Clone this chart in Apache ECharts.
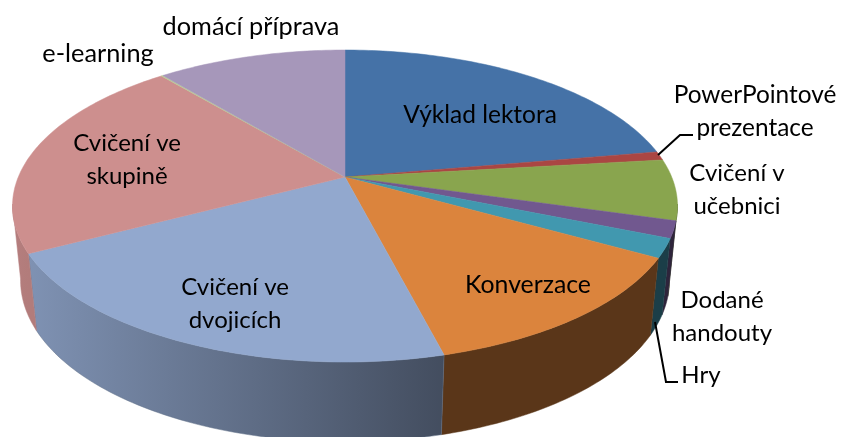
<!DOCTYPE html>
<html>
<head>
<meta charset="utf-8">
<title>Pie 3D</title>
<script src="https://cdn.jsdelivr.net/npm/echarts@6/dist/echarts.min.js"></script>
<style>
  html, body { margin: 0; padding: 0; background: #fff; }
  #chart { width: 843px; height: 437px; }
</style>
</head>
<body>
<div id="chart"></div>
<script>
// data, percent of the whole pie
const sliceNames = ['Výklad lektora', 'PowerPointové prezentace', 'Cvičení v učebnici', 'Dodané handouty', 'Hry',
  'Konverzace', 'Cvičení ve dvojicích', 'Cvičení ve skupině', 'e-learning', 'domácí příprava'];
const sliceValues = [22.25, 0.9, 6.3, 1.75, 1.95, 12.85, 21.3, 21.6, 0.1, 11];
const sliceColors = ['#4572a7', '#aa4643', '#89a54e', '#71588f', '#4198af', '#db843d', '#92a8ce', '#cd8f8e', '#b9cd96', '#a697ba'];

// perspective of the disc
const CX = 345, CY = 177, RX = 326.7, RY = 150.6, PERSP = 0.1859;
const VANISH_Y = 3300;
const total = sliceValues.reduce((a, b) => a + b, 0);

// angle in degrees, clockwise from 12 o'clock
const topPoint = (deg) => {
  const a = deg * Math.PI / 180;
  const u = Math.sin(a), v = -Math.cos(a);
  const d = 1 - PERSP * v;
  return [CX + RX * u / d, CY + RY * v / d];
};
const bottomPoint = (deg) => {
  const p = topPoint(deg);
  const t = 0.0235 - 0.0037 * Math.cos(deg * Math.PI / 180);
  return [p[0] + t * (CX - p[0]), p[1] + t * (VANISH_Y - p[1])];
};
const sliceRange = (idx) => {
  let sum = 0;
  for (let i = 0; i < idx; i++) sum += sliceValues[i];
  return [sum / total * 360, (sum + sliceValues[idx]) / total * 360];
};
const arc = (fn, from, to) => {
  const pts = [];
  const n = Math.max(1, Math.ceil(Math.abs(to - from)));
  for (let i = 0; i <= n; i++) pts.push(fn(from + (to - from) * i / n));
  return pts;
};

// wall gets darker from left to right, right of the front it stays flat
const wallShade = (x, flat) => {
  if (flat) return 0.41;
  return 0.87 - (x - 27) / (444 - 27) * 0.41;
};
const darken = (hex, f) => {
  const n = parseInt(hex.slice(1), 16);
  const c = [n >> 16, (n >> 8) & 255, n & 255].map((k) => Math.round(k * f));
  return 'rgb(' + c.join(',') + ')';
};

const renderWall = (params) => {
  const i = params.dataIndex;
  const r = sliceRange(i);
  const from = Math.max(r[0], 100), to = Math.min(r[1], 260);
  if (to <= from) return { type: 'group', children: [] };
  const rim = arc(topPoint, from, to);
  const low = arc(bottomPoint, from, to).reverse();
  const x0 = rim[rim.length - 1][0], x1 = rim[0][0];
  const flat = r[1] < 170;
  const fill = new echarts.graphic.LinearGradient(x0, 0, x1 + 0.01, 0, [
    { offset: 0, color: darken(sliceColors[i], wallShade(x0, flat)) },
    { offset: 1, color: darken(sliceColors[i], wallShade(x1, flat)) }
  ], true);
  return {
    type: 'polygon',
    shape: { points: rim.concat(low) },
    style: { fill: fill, stroke: darken(sliceColors[i], wallShade((x0 + x1) / 2, flat)), lineWidth: 0.5 }
  };
};

const renderTop = (params) => {
  const i = params.dataIndex;
  const r = sliceRange(i);
  return {
    type: 'polygon',
    shape: { points: [[CX, CY]].concat(arc(topPoint, r[0], r[1])) },
    style: { fill: sliceColors[i], stroke: sliceColors[i], lineWidth: 0.5 }
  };
};

const seriesData = sliceValues.map((v, i) => ({ name: sliceNames[i], value: [v] }));

const label = (text, x, y, size) => ({
  type: 'text',
  z: 100,
  x: x,
  y: y,
  style: {
    text: text,
    fontFamily: 'Lato',
    fontSize: size || 24,
    lineHeight: 33,
    fill: '#000',
    align: 'center',
    verticalAlign: 'middle'
  }
});
const leader = (points) => ({
  type: 'polyline',
  z: 100,
  shape: { points: points },
  style: { stroke: '#000', lineWidth: 2, fill: null }
});

const chart = echarts.init(document.getElementById('chart'));
chart.setOption({
  animation: false,
  series: [
    { type: 'custom', coordinateSystem: 'none', z: 1, data: seriesData, renderItem: renderWall, silent: true },
    { type: 'custom', coordinateSystem: 'none', z: 2, data: seriesData, renderItem: renderTop }
  ],
  graphic: [
    label('domácí příprava', 251, 27, 25.3),
    label('e-learning', 98, 54, 25.3),
    label('Výklad lektora', 480, 115, 24.5),
    label('PowerPointové\nprezentace', 755, 111.5, 24.4),
    label('Cvičení v\nučebnici', 737, 190),
    label('Cvičení ve\nskupině', 127, 159.5),
    label('Cvičení ve\ndvojicích', 235, 303.5),
    label('Konverzace', 528, 285, 24.8),
    label('Dodané\nhandouty', 722, 317),
    label('Hry', 701, 375),
    leader([[658, 155], [680, 135], [693, 135]]),
    leader([[655, 322], [666, 382], [678, 382]])
  ]
});
</script>
</body>
</html>
